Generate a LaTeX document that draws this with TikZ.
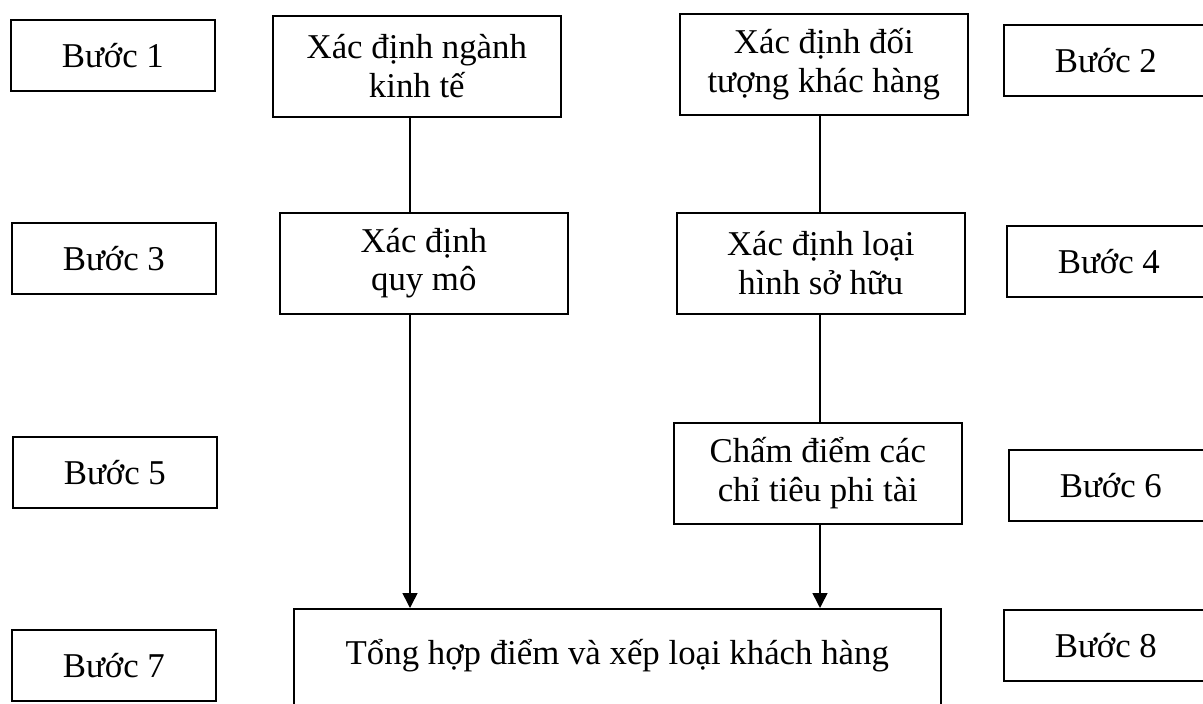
\documentclass[tikz,border=0pt]{standalone}
\usepackage{fontspec}
\setmainfont{Liberation Serif}
\usetikzlibrary{arrows.meta}
\tikzset{
  basebox/.style={draw, line width=1.6pt, inner sep=0pt, align=center,
    font=\fontsize{34.8}{38.5}\selectfont, anchor=north west},
  stepbox/.style={basebox, minimum width=204pt, minimum height=71pt},
  procbox/.style={basebox, minimum width=288pt, minimum height=101pt},
  conn/.style={line width=1.6pt},
  flowarrow/.style={conn, -{Triangle[length=15pt,width=15pt]}}
}
\begin{document}
\begin{tikzpicture}[x=1pt,y=-1pt]
\useasboundingbox (0,0) rectangle (1203,704);
\fill[white] (0,0) rectangle (1203,704);

% step labels, left column
\node[stepbox] (s1) at (10,19)  {Bước 1};
\node[stepbox] (s3) at (11,222) {Bước 3};
\node[stepbox] (s5) at (12,436) {Bước 5};
\node[stepbox] (s7) at (11,629) {Bước 7};

% step labels, right column (run past the right edge)
\node[stepbox] (s2) at (1003,24)  {Bước 2};
\node[stepbox] (s4) at (1006,225) {Bước 4};
\node[stepbox] (s6) at (1008,449) {Bước 6};
\node[stepbox] (s8) at (1003,609) {Bước 8};

% process boxes
\node[procbox] (nganh)  at (272,15)  {Xác định ngành\\kinh tế};
\node[procbox] (doituong) at (679,13) {Xác định đối\\tượng khác hàng};
\node[procbox] (quymo)  at (279,212) {Xác định\\quy mô};
\node[procbox] (loaihinh) at (676,212) {Xác định loại\\hình sở hữu};
\node[procbox] (chamdiem) at (673,422) {Chấm điểm các\\chỉ tiêu phi tài};

% summary box (runs past the bottom edge)
\node[basebox, minimum width=647pt, text height=56pt, text depth=62pt]
  (tonghop) at (293,608) {Tổng hợp điểm và xếp loại khách hàng};

% connector columns
\coordinate (xL) at (410,0);
\coordinate (xR) at (820,0);

\draw[conn] (nganh.south -| xL) -- (quymo.north -| xL);
\draw[conn] (doituong.south -| xR) -- (loaihinh.north -| xR);
\draw[conn] (loaihinh.south -| xR) -- (chamdiem.north -| xR);
\draw[flowarrow] (quymo.south -| xL) -- (tonghop.north -| xL);
\draw[flowarrow] (chamdiem.south -| xR) -- (tonghop.north -| xR);
\end{tikzpicture}
\end{document}
